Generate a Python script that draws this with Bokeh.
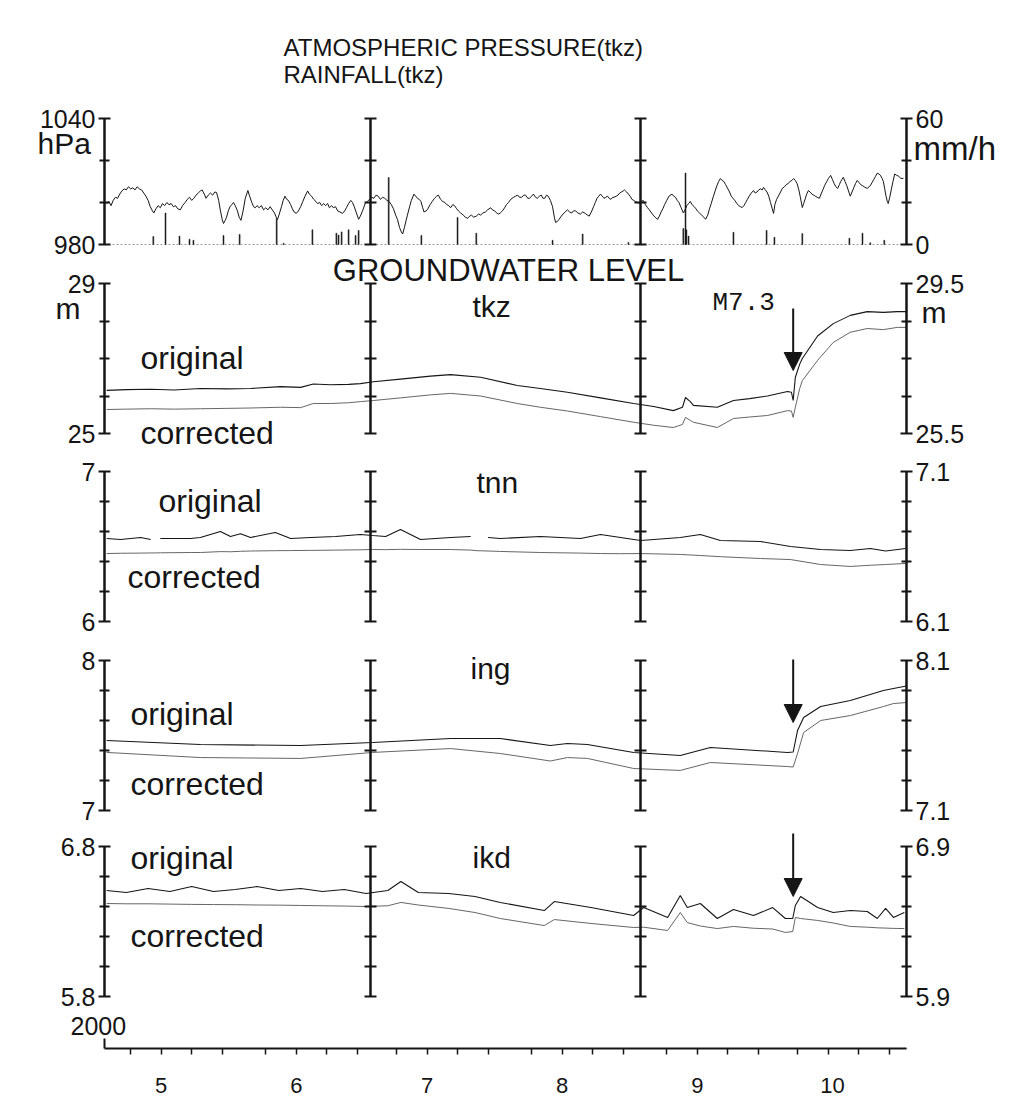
from bokeh.plotting import figure
from bokeh.models import Range1d, LinearAxis, FixedTicker, Arrow, NormalHead
from bokeh.core.properties import value
from bokeh.embed import file_html
from bokeh.resources import INLINE

# ---------------- data ----------------
MONTH_LABELS = ["5", "6", "7", "8", "9", "10"]
MONTH_START_DAYS = [0, 31, 61, 92, 123, 153, 184]      # days since 2000-05-01
MONTH_LABEL_DAYS = [13, 44, 74, 105, 136, 167]
QUAKE_DAY = 158                                        # 2000-10-06, M7.3

PRESS_TICKS = [980, 1000, 1020, 1040]
RAIN_TICKS = [0, 20, 40, 60]
TKZ_TICKS = [25, 26, 27, 28, 29]
TKZ_R_TICKS = [25.5, 26.5, 27.5, 28.5, 29.5]
TNN_TICKS = [6.0, 6.2, 6.4, 6.6, 6.8, 7.0]
TNN_R_TICKS = [6.1, 6.3, 6.5, 6.7, 6.9, 7.1]
ING_TICKS = [7.0, 7.2, 7.4, 7.6, 7.8, 8.0]
ING_R_TICKS = [7.1, 7.3, 7.5, 7.7, 7.9, 8.1]
IKD_TICKS = [5.8, 6.0, 6.2, 6.4, 6.6, 6.8]
IKD_R_TICKS = [5.9, 6.1, 6.3, 6.5, 6.7, 6.9]

# atmospheric pressure (hPa)
P_DAY = [
    0.5, 1.0, 1.5, 2.0, 2.5, 3.0, 3.5, 4.0, 4.5, 5.0,
    5.5, 6.0, 6.5, 7.0, 7.5, 8.0, 8.5, 9.0, 9.5, 10.0,
    10.5, 11.0, 11.3, 11.8, 12.3, 12.8, 13.3, 13.8, 14.3, 14.8,
    15.3, 15.8, 16.3, 16.8, 17.4, 17.9, 18.5, 19.0, 19.5, 20.0,
    20.5, 21.0, 21.5, 22.0, 22.4, 22.9, 23.3, 23.8, 24.3, 24.8,
    25.3, 25.7, 26.2, 26.6, 27.0, 27.3, 27.7, 28.0, 28.4, 28.8,
    29.2, 29.6, 30.0, 30.5, 30.9, 31.3, 31.8, 32.3, 32.9, 33.3,
    33.8, 34.2, 34.6, 35.0, 35.5, 36.0, 36.5, 37.0, 37.5, 38.0,
    38.5, 39.0, 39.4, 39.7, 40.1, 40.6, 41.0, 41.4, 41.8, 42.2,
    42.7, 43.1, 43.5, 44.0, 44.5, 45.0, 45.5, 46.0, 46.6, 47.0,
    47.5, 48.0, 48.5, 48.9, 49.4, 49.8, 50.3, 50.7, 51.2, 51.6,
    52.1, 52.5, 53.0, 53.5, 54.0, 54.6, 55.1, 55.5, 56.0, 56.5,
    56.9, 57.3, 57.8, 58.3, 58.7, 59.2, 59.8, 60.3, 60.8, 61.3,
    61.8, 62.3, 62.8, 63.3, 63.8, 64.3, 64.8, 65.3, 65.8, 66.3,
    66.8, 67.2, 67.7, 68.1, 68.4, 68.8, 69.2, 69.5, 70.0, 70.4,
    71.0, 71.4, 71.8, 72.2, 72.6, 73.0, 73.3, 73.8, 74.2, 74.7,
    75.2, 75.7, 76.2, 76.6, 77.1, 77.6, 78.1, 78.5, 79.0, 79.4,
    79.9, 80.3, 80.8, 81.2, 81.7, 82.3, 82.8, 83.3, 83.8, 84.2,
    84.7, 85.3, 85.8, 86.3, 86.8, 87.4, 87.9, 88.6, 89.0, 89.5,
    90.0, 90.4, 90.8, 91.3, 91.8, 92.2, 92.7, 93.2, 93.8, 94.3,
    94.8, 95.2, 95.7, 96.2, 96.6, 97.1, 97.5, 98.0, 98.4, 98.9,
    99.3, 99.8, 100.2, 100.6, 101.0, 101.4, 101.8, 102.3, 102.8, 103.2,
    103.5, 103.9, 104.3, 104.8, 105.2, 105.7, 106.2, 106.7, 107.2, 107.6,
    108.1, 108.6, 109.2, 109.7, 110.3, 110.8, 111.2, 111.7, 112.2, 112.6,
    113.0, 113.4, 113.8, 114.2, 114.6, 115.0, 115.4, 115.8, 116.2, 116.6,
    116.9, 117.4, 117.8, 118.2, 118.6, 119.0, 119.3, 119.8, 120.2, 120.6,
    121.0, 121.4, 121.8, 122.3, 122.8, 123.2, 123.6, 124.1, 124.6, 125.0,
    125.5, 125.9, 126.3, 126.9, 127.3, 127.7, 128.1, 128.5, 129.0, 129.5,
    130.2, 130.6, 131.0, 131.4, 131.8, 132.3, 132.8, 133.2, 133.6, 134.0,
    134.4, 134.8, 135.3, 135.7, 136.0, 136.5, 137.0, 137.5, 137.9, 138.4,
    138.8, 139.2, 139.7, 140.1, 140.5, 140.9, 141.3, 141.7, 142.1, 142.5,
    142.9, 143.4, 143.8, 144.2, 144.6, 145.1, 145.5, 145.9, 146.3, 146.7,
    147.1, 147.5, 147.9, 148.4, 148.9, 149.3, 149.7, 150.1, 150.5, 150.9,
    151.2, 151.6, 152.0, 152.4, 152.8, 153.2, 153.5, 153.8, 154.2, 154.6,
    155.1, 155.5, 156.0, 156.4, 156.8, 157.3, 157.7, 158.1, 158.5, 158.9,
    159.3, 159.6, 160.1, 160.4, 160.8, 161.1, 161.5, 161.9, 162.3, 162.7,
    163.1, 163.5, 164.0, 164.4, 164.8, 165.2, 165.7, 166.1, 166.6, 167.0,
    167.4, 167.8, 168.2, 168.6, 168.9, 169.2, 169.5, 169.9, 170.3, 170.7,
    171.1, 171.5, 171.9, 172.3, 172.7, 173.1, 173.5, 173.9, 174.3, 174.7,
    175.0, 175.4, 175.7, 176.1, 176.5, 176.9, 177.3, 177.7, 178.0, 178.4,
    178.7, 179.0, 179.3, 179.6, 179.8, 180.1, 180.5, 180.9, 181.3, 181.7,
    182.2, 182.7, 183.3]
P_HPA = [
    999.5, 1000.5, 998.5, 1001, 1002.5, 1002, 1004, 1005.5, 1006.5, 1006,
    1007.5, 1006.5, 1007, 1006, 1007.5, 1006.5, 1006, 1004.5, 1003, 1001,
    998, 996, 995, 997, 998.5, 997.5, 999.5, 998.5, 1000, 999,
    999.5, 998, 998.5, 997, 996.5, 998.5, 1000, 1001.5, 1002.5, 1001,
    1002, 1003.5, 1004.5, 1005.5, 1006, 1004, 1002, 1003.5, 1004.5, 1003.5,
    1005, 1004.8, 1001, 996, 992, 990, 991.5, 993, 996, 998,
    999, 1000, 998.5, 996, 993, 991.5, 996, 1002, 1005.7, 1003,
    1000, 998, 997.5, 998.5, 997.5, 998.5, 996.5, 997.5, 996.5, 998,
    996.5, 995, 993, 992, 994.5, 998, 1001, 1003, 1001.5, 1001,
    999, 997, 995.5, 994.8, 996, 998, 1000.5, 1003, 1005.5, 1004,
    1003, 1001.5, 1000.5, 999.5, 1000, 998.5, 999.5, 998.5, 999.5, 997.5,
    998.5, 997.5, 998, 996, 995.5, 994.8, 996, 997.5, 999.5, 1001,
    1000, 998, 995, 992, 993.5, 996, 999.5, 1000.5, 1001.5, 1002.5,
    1002, 1003.5, 1003, 1001.5, 1002.5, 1002, 1001, 1000.5, 999, 997,
    994, 992, 988, 986, 985, 988, 991.5, 994, 998, 1001,
    1004, 1003, 1002, 1001.5, 1000.5, 997.5, 995.5, 996, 997, 999,
    1000.5, 1002, 1003, 1003.5, 1001.5, 1000.5, 1000, 999, 998.5, 997.5,
    999, 998.5, 997, 996, 995, 994, 993, 992.5, 993.5, 994,
    993, 993.5, 994.5, 994, 995, 995.5, 996.5, 997.5, 996.5, 996,
    995, 994.5, 995, 996, 997.5, 999, 1000, 1001.5, 1002.4, 1003,
    1003.5, 1002.5, 1002.5, 1003.5, 1003.5, 1002, 1002, 1003, 1004, 1002.5,
    1002, 1003, 1003.5, 1002, 1002, 1003.5, 1003, 1001, 998, 993,
    990.5, 991, 992, 993.5, 994.5, 995.5, 996.5, 995.5, 995, 996,
    996, 995, 994.5, 995.5, 994.8, 994, 993.5, 995.5, 998, 1000,
    1002, 1003, 1004, 1003, 1002, 1002.5, 1003, 1002, 1001.5, 1002.5,
    1002.5, 1003, 1003.5, 1004.5, 1005, 1005.5, 1006, 1005, 1004, 1003,
    1001.5, 1001, 1000.5, 1000, 999.5, 1000.5, 1001, 999, 997.5, 996.5,
    995, 994, 993, 992, 993.5, 995.5, 997, 999, 1001, 1003,
    1004, 1003, 1002.5, 1001, 1000, 997.5, 995, 996.5, 998.5, 999.5,
    1000.5, 999, 998, 997, 996, 995, 994, 993, 992, 994,
    997, 999.5, 1003, 1005.5, 1008, 1010, 1011.4, 1010.5, 1010, 1008.5,
    1007, 1005, 1003, 1002, 1001, 999.5, 998.5, 998, 997.6, 998.5,
    1000, 1001.5, 1003, 1004.5, 1005.7, 1004.5, 1005, 1006, 1006.5, 1006,
    1007.2, 1006, 1005, 1003, 1000, 997, 994.8, 999, 1001.5, 1003,
    1005, 1006.7, 1007.5, 1008.5, 1009, 1010, 1010.5, 1011.4, 1010.5, 1009,
    1006, 1003, 997.6, 999.5, 1002, 1004, 1005.7, 1005, 1004, 1003.5,
    1003, 1002.5, 1002, 1004, 1006, 1008, 1010, 1011.5, 1012.9, 1011,
    1009, 1007.5, 1006.7, 1008.5, 1010, 1011, 1012, 1010, 1008, 1005.5,
    1003, 1005, 1007, 1009, 1010.5, 1009.5, 1008.5, 1008, 1007.5, 1007,
    1006.7, 1007.5, 1008, 1009.5, 1011, 1012.5, 1014, 1013.5, 1013, 1011.5,
    1010, 1006.5, 1003, 1000.5, 999.5, 1002, 1006, 1010, 1013.6, 1013,
    1012.5, 1011.5, 1011.5]

# hourly rainfall (mm/h)
R_DAY = [11.2, 14.0, 17.2, 19.5, 20.4, 27.3, 31.0, 39.5, 41.1, 47.7, 53.2, 53.7, 54.4, 56.0,
         57.6, 58.3, 65.2, 72.7, 81.0, 85.3, 102.8, 109.7, 120.2, 132.8, 133.3, 133.5, 134.0,
         144.3, 151.9, 153.7, 160.1, 170.9, 173.9, 175.7, 178.9]
R_MM = [3.8, 15, 4, 2.5, 2, 4.3, 4.8, 12.4, 0.6, 7, 5.4, 4.5, 6, 7, 4.3, 6.7, 31.9, 4.3, 12.9,
        5.4, 2, 5, 1, 7.6, 34, 7, 4, 5.8, 6.7, 3.4, 5.2, 3, 5.4, 0.8, 2]

# groundwater level, tkz (m)
TKZ_DAY = [0.5, 5, 10.6, 16, 22.0, 28, 33.5, 40.4, 45.0, 47.9, 51.8, 56, 58.7, 61.7, 67.9,
           74.8, 79.4, 86.3, 94.7, 100, 106.2, 113.8, 121.4, 126, 130.5, 132.6, 133.3, 134.4,
           135.1, 140.6, 144.3, 148, 152.1, 156.7, 157.6, 158.0, 158.5, 159.5, 160.1, 163.6,
           167.2, 171.1, 175.0, 178.7, 181.9, 184]
TKZ_ORIG = [26.15, 26.17, 26.18, 26.16, 26.2, 26.19, 26.2, 26.25, 26.23, 26.32, 26.3, 26.31,
            26.33, 26.38, 26.45, 26.53, 26.57, 26.5, 26.28, 26.2, 26.1, 25.95, 25.8, 25.72,
            25.61, 25.7, 25.96, 25.85, 25.75, 25.7, 25.88, 25.93, 26.0, 26.12, 26.1, 25.88, 26.5,
            26.85, 27.0, 27.6, 27.93, 28.15, 28.25, 28.23, 28.25, 28.25]
TKZ_CORR = [25.64, 25.65, 25.66, 25.65, 25.66, 25.67, 25.68, 25.7, 25.69, 25.8, 25.8, 25.82,
            25.85, 25.88, 25.95, 26.03, 26.07, 26.0, 25.8, 25.7, 25.6, 25.45, 25.3, 25.22,
            25.16, 25.24, 25.43, 25.35, 25.3, 25.16, 25.4, 25.44, 25.48, 25.61, 25.6, 25.43,
            25.7, 26.2, 26.41, 26.95, 27.43, 27.7, 27.8, 27.77, 27.83, 27.83]

# groundwater level, tnn (m)
TNN_DAY = [0.5, 3.7, 8.3, 10.6, 11.5, 12.8, 19.7, 22.0, 26.6, 28.9, 31.2, 33.5, 39.2, 42.7,
           47.3, 53.0, 58.7, 61.5, 64.5, 67.9, 72.5, 79.4, 84.0, 85.5, 88.0, 90.8, 100.0,
           109.2, 113.8, 118.4, 123.0, 132.1, 136.7, 141.3, 150.5, 157.4, 164.3, 171.1,
           175.7, 179.2, 183.8]
TNN_ORIG = [6.553, 6.547, 6.56, 6.547, float("nan"), 6.553, 6.553, 6.56, 6.6, 6.567, 6.585,
            6.56, 6.593, 6.553, 6.56, 6.567, 6.58, 6.573, 6.567, 6.613, 6.547, 6.56, 6.567,
            float("nan"), 6.56, 6.553, 6.567, 6.553, 6.58, 6.56, 6.54, 6.56, 6.58, 6.54, 6.533,
            6.5, 6.48, 6.473, 6.487, 6.47, 6.487]
TNN_CORR = [6.453, 6.455, 6.456, 6.457, 6.457, 6.458, 6.46, 6.46, 6.466, 6.465, 6.468, 6.47,
            6.472, 6.473, 6.474, 6.476, 6.478, 6.48, 6.479, 6.481, 6.48, 6.48, 6.476, 6.472,
            6.47, 6.467, 6.46, 6.456, 6.453, 6.452, 6.453, 6.447, 6.44, 6.432, 6.42, 6.413,
            6.38, 6.367, 6.375, 6.38, 6.387]

# groundwater level, ing (m)
ING_DAY = [0.5, 22.0, 45.0, 61.5, 79.4, 90.8, 102.3, 106.2, 110.8, 121.4, 132.1, 139.0,
           156.7, 158.0, 159.0, 160.4, 164.3, 171.1, 178.7, 181.0, 184.0]
ING_ORIG = [7.467, 7.44, 7.433, 7.453, 7.48, 7.48, 7.433, 7.447, 7.44, 7.387, 7.367, 7.42,
            7.387, 7.39, 7.533, 7.62, 7.693, 7.733, 7.8, 7.813, 7.83]
ING_CORR = [7.387, 7.353, 7.347, 7.387, 7.413, 7.38, 7.33, 7.353, 7.347, 7.28, 7.267, 7.32,
            7.293, 7.29, 7.38, 7.52, 7.6, 7.633, 7.693, 7.713, 7.72]

# groundwater level, ikd (m)
IKD_DAY = [0.5, 5, 10, 15, 20, 25, 30, 35, 40, 45, 50, 55, 60, 65, 68, 72, 79, 85, 90.8,
           100.9, 103.2, 111.6, 121.4, 123.7, 129.2, 132.1, 133.7, 136.7, 140.6, 144.3, 148.9,
           153.3, 156.2, 157.9, 158.5, 159.7, 163.6, 167.2, 171.1, 175.0, 177.3, 179.2,
           181.0, 183.5]
IKD_ORIG = [6.507, 6.493, 6.52, 6.5, 6.533, 6.5, 6.513, 6.533, 6.507, 6.52, 6.5, 6.513, 6.487,
            6.507, 6.567, 6.493, 6.487, 6.467, 6.427, 6.373, 6.433, 6.393, 6.34, 6.393, 6.327,
            6.473, 6.393, 6.42, 6.32, 6.38, 6.34, 6.393, 6.32, 6.32, 6.407, 6.467, 6.393, 6.36,
            6.373, 6.367, 6.32, 6.387, 6.327, 6.36]
IKD_CORR = [6.42, 6.418, 6.418, 6.416, 6.414, 6.413, 6.412, 6.41, 6.409, 6.407, 6.405, 6.403,
            6.4, 6.405, 6.427, 6.41, 6.387, 6.36, 6.32, 6.273, 6.313, 6.287, 6.26, 6.262, 6.24,
            6.36, 6.293, 6.27, 6.253, 6.267, 6.255, 6.25, 6.227, 6.233, 6.327, 6.32, 6.307,
            6.29, 6.267, 6.262, 6.258, 6.256, 6.254, 6.253]

# ---------------- layout (page pixels) ----------------
FRAME_LEFT_PX, FRAME_RIGHT_PX = 0, 1030
FRAME_TOP_PX, FRAME_BOT_PX = 0, 1048
BOTTOM_BORDER = 52
AX_L_PX, AX_R_PX = 104, 906
D0, D1 = MONTH_START_DAYS[0], MONTH_START_DAYS[-1]
PPD = (AX_R_PX - AX_L_PX) / (D1 - D0)
INK = "#151515"
FONT = "Liberation Sans"


def day_at(px):
    return D0 + (px - AX_L_PX) / PPD


def band_range(ticks, top_px, bot_px):
    lo, hi = ticks[0], ticks[-1]
    k = (bot_px - top_px) / (hi - lo)
    return Range1d(start=lo - (FRAME_BOT_PX - bot_px) / k, end=hi + (top_px - FRAME_TOP_PX) / k)


p = figure(frame_width=FRAME_RIGHT_PX - FRAME_LEFT_PX, frame_height=FRAME_BOT_PX - FRAME_TOP_PX,
           x_range=Range1d(day_at(FRAME_LEFT_PX), day_at(FRAME_RIGHT_PX)),
           y_range=Range1d(FRAME_BOT_PX, FRAME_TOP_PX),
           x_axis_type=None, y_axis_type=None, toolbar_location=None, output_backend="svg",
           min_border_left=0, min_border_right=0, min_border_top=0,
           min_border_bottom=BOTTOM_BORDER,
           outline_line_color=None, background_fill_color="white", border_fill_color="white")

# panels: (name, left ticks, right ticks, top px, bottom px)
PANELS = [
    ("P", PRESS_TICKS, RAIN_TICKS, 118, 244),
    ("tkz", TKZ_TICKS, TKZ_R_TICKS, 283, 433),
    ("tnn", TNN_TICKS, TNN_R_TICKS, 471, 621),
    ("ing", ING_TICKS, ING_R_TICKS, 660, 810),
    ("ikd", IKD_TICKS, IKD_R_TICKS, 846, 996),
]

extra = {}
for name, lt, rt, top, bot in PANELS:
    extra[name] = band_range(lt, top, bot)
    extra[name + "_r"] = band_range(rt, top, bot)
p.extra_y_ranges = extra


def style_axis(ax):
    ax.axis_line_width = 2.5
    ax.axis_line_color = INK
    ax.major_tick_line_width = 2
    ax.minor_tick_line_width = 2
    ax.major_tick_line_color = INK
    ax.minor_tick_line_color = INK
    ax.major_tick_in = 6
    ax.major_tick_out = 6
    ax.minor_tick_in = 5
    ax.minor_tick_out = 5
    ax.major_label_text_font = FONT
    ax.major_label_text_font_size = "25px"
    ax.major_label_text_color = INK
    ax.major_label_standoff = 3


def panel_axis(rname, loc, ticks, side):
    # labelled axis: only the end values carry labels
    ax = LinearAxis(y_range_name=rname, fixed_location=loc, bounds=(ticks[0], ticks[-1]),
                    ticker=FixedTicker(ticks=[ticks[0], ticks[-1]], minor_ticks=ticks[1:-1]))
    style_axis(ax)
    p.add_layout(ax, side)


def bar_axis(rname, loc, ticks):
    # unlabelled vertical bar with ticks (month separators)
    ax = LinearAxis(y_range_name=rname, fixed_location=loc, bounds=(ticks[0], ticks[-1]),
                    ticker=FixedTicker(ticks=[], minor_ticks=ticks))
    style_axis(ax)
    ax.minor_tick_in = 6
    ax.minor_tick_out = 6
    p.add_layout(ax, "left")


for name, lt, rt, top, bot in PANELS:
    panel_axis(name, MONTH_START_DAYS[0], lt, "left")
    bar_axis(name, MONTH_START_DAYS[2], lt)
    bar_axis(name, MONTH_START_DAYS[4], lt)
    panel_axis(name + "_r", MONTH_START_DAYS[-1], rt, "right")

# ---- pressure & rainfall ----
p.segment(x0=[D0], x1=[D1], y0=[RAIN_TICKS[0]], y1=[RAIN_TICKS[0]], y_range_name="P_r",
          line_color="#9a9a9a", line_width=1, line_dash="2 2")
p.vbar(x=R_DAY, top=R_MM, bottom=0, width=0.22, y_range_name="P_r",
       fill_color=INK, line_color=INK, line_width=0.5)
p.line(P_DAY, P_HPA, y_range_name="P", line_color=INK, line_width=1.0)

# ---- groundwater ----
for name, d, o, c in [("tkz", TKZ_DAY, TKZ_ORIG, TKZ_CORR), ("tnn", TNN_DAY, TNN_ORIG, TNN_CORR),
                      ("ing", ING_DAY, ING_ORIG, ING_CORR), ("ikd", IKD_DAY, IKD_ORIG, IKD_CORR)]:
    p.line(d, o, y_range_name=name, line_color=INK, line_width=1.1)
    p.line(d, c, y_range_name=name, line_color="#555555", line_width=0.9)

# ---- arrows at the earthquake ----
for y0, y1 in [(308, 370), (659, 722), (833, 896)]:
    p.add_layout(Arrow(end=NormalHead(size=18, fill_color=INK, line_color=INK, line_width=1),
                       x_start=QUAKE_DAY, y_start=y0, x_end=QUAKE_DAY, y_end=y1,
                       line_width=2, line_color=INK))

# ---- texts (x, y in page px) ----
TEXTS = [
    (283, 47, "ATMOSPHERIC PRESSURE(tkz)", 24, "left", FONT),
    (283, 74, "RAINFALL(tkz)", 24, "left", FONT),
    (37, 143, "hPa", 30, "left", FONT),
    (913, 148, "mm/h", 33, "left", FONT),
    (508, 270, "GROUNDWATER LEVEL", 31, "center", FONT),
    (55, 308, "m", 30, "left", FONT),
    (921, 312, "m", 30, "left", FONT),
    (472, 306, "tkz", 30, "left", FONT),
    (140, 357, "original", 32, "left", FONT),
    (140, 432, "corrected", 32, "left", FONT),
    (712, 302, "M7.3", 26, "left", "Liberation Mono"),
    (476, 482, "tnn", 30, "left", FONT),
    (158, 500, "original", 32, "left", FONT),
    (127, 576, "corrected", 32, "left", FONT),
    (470, 668, "ing", 30, "left", FONT),
    (130, 713, "original", 32, "left", FONT),
    (130, 783, "corrected", 32, "left", FONT),
    (472, 857, "ikd", 30, "left", FONT),
    (130, 857, "original", 32, "left", FONT),
    (130, 935, "corrected", 32, "left", FONT),
    (70, 1025, "2000", 25, "left", FONT),
]
for px, py, s, size, align, font in TEXTS:
    p.text(x=[day_at(px)], y=[py], text=[s], text_font=value(font),
           text_font_size=value(f"{size}px"), text_align=align, text_baseline="middle",
           text_color=INK)

# ---- time axis ----
p.segment(x0=[D0], x1=[D0], y0=[FRAME_BOT_PX - 10], y1=[FRAME_BOT_PX], line_color=INK, line_width=2)

week_ticks = [m + o for m in MONTH_START_DAYS[:-1] for o in (6, 13, 20, 27)]
tax = LinearAxis(bounds=(D0, D1),
                 ticker=FixedTicker(ticks=MONTH_LABEL_DAYS, minor_ticks=week_ticks),
                 major_label_overrides={d: s for d, s in zip(MONTH_LABEL_DAYS, MONTH_LABELS)})
tax.axis_line_width = 2
tax.axis_line_color = INK
tax.major_tick_in = 0
tax.major_tick_out = 0
tax.minor_tick_in = 0
tax.minor_tick_out = 6
tax.minor_tick_line_width = 1.5
tax.minor_tick_line_color = INK
tax.major_label_text_font = FONT
tax.major_label_text_font_size = "22px"
tax.major_label_text_color = INK
tax.major_label_standoff = 23
p.add_layout(tax, "below")

bax = LinearAxis(bounds=(D0, D1), fixed_location=FRAME_BOT_PX,
                 ticker=FixedTicker(ticks=[], minor_ticks=MONTH_START_DAYS))
bax.axis_line_color = None
bax.minor_tick_in = 0
bax.minor_tick_out = 12
bax.minor_tick_line_width = 2
bax.minor_tick_line_color = INK
p.add_layout(bax, "below")

p.grid.visible = False

open("out.html", "w").write(file_html(p, INLINE))
